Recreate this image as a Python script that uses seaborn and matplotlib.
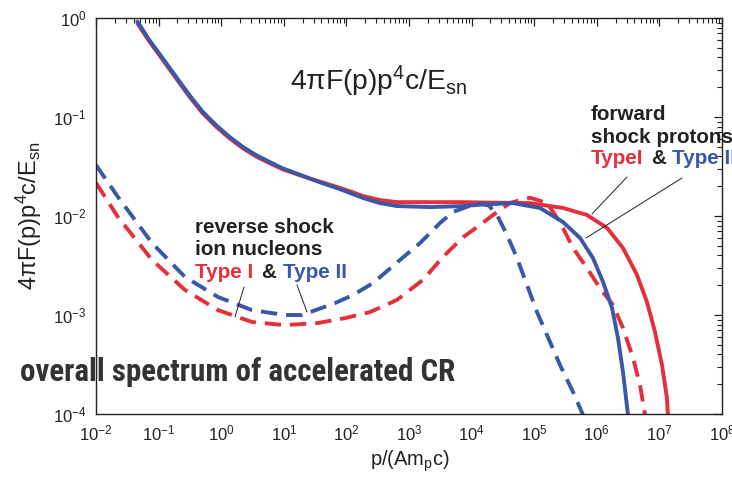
import numpy as np
import pandas as pd
import matplotlib
matplotlib.use("Agg")
import matplotlib.pyplot as plt
import seaborn as sns
from matplotlib import font_manager
from matplotlib.ticker import LogLocator, NullFormatter

# ---------------- data ----------------
# forward shock protons, Type I (red, solid)
fwd_I_p = [0.046, 0.071, 0.1163, 0.190, 0.309, 0.506, 0.826, 1.346, 2.20, 3.59, 5.86, 9.59,
           15.7, 25.5, 41.8, 68.2, 114, 184, 344, 643, 2160, 7300, 13600, 85700,
           2.88e5, 6.97e5, 1.46e6, 2.62e6, 4.39e6, 6.34e6, 8.51e6, 1.10e7, 1.32e7, 1.37e7]
fwd_I_f = [0.88, 0.580, 0.378, 0.246, 0.161, 0.109, 0.080, 0.0612, 0.0485, 0.0400, 0.0343, 0.0296,
           0.0266, 0.0240, 0.0218, 0.0198, 0.0178, 0.0159, 0.0145, 0.0138, 0.0138, 0.0138, 0.0137, 0.0135,
           0.01205, 0.01024, 0.00757, 0.00475, 0.00254, 0.00135, 6.73e-4, 3.13e-4, 1.45e-4, 9.8e-5]

# forward shock protons, Type II (blue, solid)
fwd_II_p = [0.046, 0.071, 0.1163, 0.190, 0.309, 0.506, 0.826, 1.346, 2.20, 3.59, 5.86, 9.59,
            15.7, 25.5, 41.8, 68.2, 114, 184, 344, 643, 2160, 7300, 13600, 45800,
            1.24e5, 2.88e5, 5.40e5, 8.69e5, 1.26e6, 1.75e6, 2.18e6, 2.62e6, 3.15e6]
fwd_II_f = [0.92, 0.600, 0.392, 0.255, 0.167, 0.113, 0.083, 0.0633, 0.0501, 0.0413, 0.0353, 0.0303,
            0.0270, 0.0240, 0.0214, 0.0193, 0.0171, 0.0152, 0.0135, 0.0126, 0.0123, 0.0126, 0.0130, 0.0135,
            0.01205, 0.00869, 0.00600, 0.00376, 0.00215, 0.00118, 5.86e-4, 2.65e-4, 9.8e-5]

# reverse shock ion nucleons, Type I (red, dashed)
rev_I_p = [0.01, 0.0224, 0.0785, 0.264, 0.889, 3.1, 10.4, 35, 95, 238, 643, 1670, 3490, 7300,
           13600, 22000, 41000, 85700, 1.60e5, 2.58e5, 4.17e5, 6.97e5, 1.12e6, 1.82e6, 2.62e6,
           3.79e6, 4.90e6, 5.89e6]
rev_I_f = [0.0216, 0.00977, 0.0036, 0.00179, 0.00112, 8.5e-4, 7.9e-4, 8.3e-4, 9.3e-4, 1.07e-3,
           1.42e-3, 2.26e-3, 3.86e-3, 6.1e-3, 0.00811, 0.01024, 0.01353, 0.01531, 0.01353, 0.00869,
           0.00475, 0.00298, 0.00187, 0.00126, 7.39e-4, 3.68e-4, 1.96e-4, 9.8e-5]

# reverse shock ion nucleons, Type II (blue, dashed)
rev_II_p = [0.01, 0.0224, 0.0785, 0.264, 0.889, 3.1, 10.4, 19.5, 66, 127, 266, 718, 1500, 3130,
            5050, 9420, 14000, 19000, 25500, 36800, 53100, 76700, 1.11e5, 1.60e5, 2.58e5,
            4.17e5, 6.02e5]
rev_II_f = [0.0327, 0.0156, 0.00533, 0.00242, 0.00152, 0.00112, 0.00100, 0.00100, 0.00132, 0.00159,
            0.0021, 0.0036, 0.00533, 0.0085, 0.011, 0.0127, 0.0134, 0.0127, 0.01024, 0.00643,
            0.00376, 0.00201, 0.00107, 6.28e-4, 3.13e-4, 1.67e-4, 9.8e-5]

x_ticks = [1e-2, 1e-1, 1e0, 1e1, 1e2, 1e3, 1e4, 1e5, 1e6, 1e7, 1e8]
y_ticks = [1e-4, 1e-3, 1e-2, 1e-1, 1e0]

RED = "#e3303b"
BLUE = "#3b57a8"
INK = "#222222"

frames = []
for p, f, typ, shock in [(fwd_I_p, fwd_I_f, "Type I", "forward"),
                         (fwd_II_p, fwd_II_f, "Type II", "forward"),
                         (rev_I_p, rev_I_f, "Type I", "reverse"),
                         (rev_II_p, rev_II_f, "Type II", "reverse")]:
    frames.append(pd.DataFrame({"p": p, "f": f, "type": typ, "shock": shock}))
df = pd.concat(frames, ignore_index=True)

# ---------------- figure ----------------
sns.set_style("white")
plt.rcParams["font.family"] = ["Liberation Sans", "DejaVu Sans"]
plt.rcParams["mathtext.fontset"] = "custom"
plt.rcParams["mathtext.rm"] = "Liberation Sans"
plt.rcParams["mathtext.it"] = "Liberation Sans"
plt.rcParams["mathtext.default"] = "regular"

W, H = 732, 478
fig = plt.figure(figsize=(W / 100, H / 100), dpi=100)
L, R, T, B = 96, 722, 18, 414
ax = fig.add_axes([L / W, 1 - B / H, (R - L) / W, (B - T) / H])

sns.lineplot(data=df, x="p", y="f", hue="type", style="shock",
             palette={"Type I": RED, "Type II": BLUE},
             dashes={"forward": "", "reverse": (4.2, 2.3)},
             estimator=None, sort=False, linewidth=2.8,
             legend=False, ax=ax)

ax.set_xscale("log")
ax.set_yscale("log")
ax.set_xlim(1e-2, 1e8)
ax.set_ylim(1e-4, 1e0)
ax.set_xticks(x_ticks)
ax.set_yticks(y_ticks)
ax.xaxis.set_minor_locator(LogLocator(base=10, subs=np.arange(2, 10), numticks=30))
ax.yaxis.set_minor_locator(LogLocator(base=10, subs=np.arange(2, 10), numticks=30))
ax.xaxis.set_minor_formatter(NullFormatter())
ax.yaxis.set_minor_formatter(NullFormatter())
ax.tick_params(which="both", direction="in", top=True, right=True, colors=INK, labelsize=12)
ax.tick_params(which="major", length=6, width=0.9, pad=7)
ax.tick_params(which="minor", length=3.5, width=0.8)
for s in ax.spines.values():
    s.set_linewidth(1.0)
    s.set_color(INK)

ax.set_xlabel("p/(Am$_p$c)", fontsize=14.5, color=INK)
ax.xaxis.set_label_coords((410 - L) / (R - L), (B - 449) / (B - T))
ax.set_ylabel("4$\\pi$F(p)p$^4$c/E$_{sn}$", fontsize=14, color=INK)
ax.yaxis.set_label_coords((44 - L) / (R - L), 0.5)

renderer = fig.canvas.get_renderer()


def fx(x):
    return x / W


def fy(y):
    return 1 - y / H


def fit(txt, target, axis="w"):
    bb = txt.get_window_extent(renderer=renderer)
    size = bb.width if axis == "w" else bb.height
    txt.set_fontsize(txt.get_fontsize() * target / size)


# y label: spans about 150 px vertically in the reference
fit(ax.yaxis.label, 150, "h")

# main formula label
formula = fig.text(fx(290), fy(90), "4$\\pi$F(p)p$^4$c/E$_{sn}$", fontsize=16, color=INK,
                   va="baseline", ha="left")
fit(formula, 178)

# annotation text size from "reverse shock" width (138 px)
probe = fig.text(0, 0, "reverse shock", fontsize=13, fontweight="bold")
fit(probe, 138)
asz = probe.get_fontsize()
probe.remove()
bold = dict(fontsize=asz, fontweight="bold", va="baseline", ha="left")

# forward shock annotation
fig.text(fx(591), fy(120), "forward", color=INK, **bold)
fig.text(fx(591), fy(143), "shock protons", color=INK, **bold)
fig.text(fx(591), fy(164), "TypeI", color=RED, **bold)
fig.text(fx(651), fy(164), "&", color=INK, **bold)
fig.text(fx(672), fy(164), "Type II", color=BLUE, **bold)
fig.add_artist(plt.Line2D([fx(627), fx(592)], [fy(177), fy(214)], color=INK, lw=0.7))
fig.add_artist(plt.Line2D([fx(682), fx(586)], [fy(178), fy(238)], color=INK, lw=0.7))

# reverse shock annotation
fig.text(fx(195), fy(233), "reverse shock", color=INK, **bold)
fig.text(fx(195), fy(255), "ion nucleons", color=INK, **bold)
fig.text(fx(195), fy(278), "Type I", color=RED, **bold)
fig.text(fx(261), fy(278), "&", color=INK, **bold)
fig.text(fx(283), fy(278), "Type II", color=BLUE, **bold)
fig.add_artist(plt.Line2D([fx(244), fx(235)], [fy(287), fy(317)], color=INK, lw=0.7))
fig.add_artist(plt.Line2D([fx(297), fx(307)], [fy(285), fy(312)], color=INK, lw=0.7))

# overall spectrum caption (drawn beneath the spine)
names = {f.name for f in font_manager.fontManager.ttflist}
cap_family = ["Liberation Sans"]
for cand in ["Liberation Sans Narrow", "Roboto Condensed", "Arial Narrow", "Open Sans Condensed"]:
    if cand in names:
        cap_family = [cand, "Liberation Sans"]
        break
caption = ax.text(fx(20), fy(381), "overall spectrum of accelerated CR", transform=fig.transFigure,
                  fontsize=22, fontweight="bold", color="#333333", va="baseline", ha="left",
                  family=cap_family, zorder=1, clip_on=False)
fit(caption, 435)

fig.savefig("out.png", dpi=100)
